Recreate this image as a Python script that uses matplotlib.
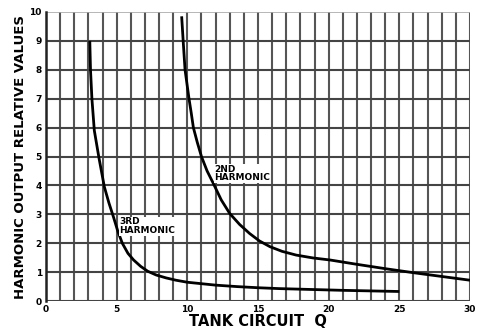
import numpy as np
import matplotlib
matplotlib.use("Agg")
import matplotlib.pyplot as plt

# values
third_q = [3.1, 3.15, 3.25, 3.42, 3.75, 4.13, 4.45, 4.78, 5.08, 5.4, 5.8, 6.2, 6.7, 7.2, 7.8,
           8.5, 9.2, 10.0, 11.0, 12.0, 13.5, 15.0, 16.5, 18.0, 19.5, 21.0, 23.0, 25.0]
third_v = [9.0, 8.0, 7.0, 5.9, 4.95, 3.95, 3.4, 2.9, 2.42, 2.0, 1.65, 1.42, 1.2, 1.03, 0.9,
           0.8, 0.72, 0.65, 0.6, 0.55, 0.5, 0.46, 0.43, 0.41, 0.39, 0.37, 0.35, 0.33]

second_q = [9.6, 9.72, 9.84, 9.98, 10.12, 10.28, 10.43, 10.7, 11.0, 11.4, 11.84, 12.4, 13.0, 13.7,
            14.4, 15.1, 15.85, 16.7, 17.7, 18.9, 20.1, 22.0, 24.0, 26.0, 28.0, 30.0]
second_v = [9.85, 8.9, 8.0, 7.5, 7.0, 6.5, 6.0, 5.5, 5.0, 4.5, 4.07, 3.5, 3.03, 2.65,
            2.34, 2.08, 1.88, 1.72, 1.59, 1.49, 1.42, 1.27, 1.12, 0.98, 0.85, 0.72]

x_ticks = [0, 5, 10, 15, 20, 25, 30]
y_ticks = list(range(0, 11))

plt.rcParams['font.family'] = 'DejaVu Sans'
plt.rcParams['font.weight'] = 'bold'

fig = plt.figure(figsize=(4.84, 3.33), dpi=100)
ax = fig.add_axes([0.095, 0.096, 0.876, 0.868])

# graph paper grid, one line per unit
for q in range(0, 31):
    ax.axvline(q, color='#555555', lw=1.5, zorder=1)
for v in range(0, 10):
    ax.axhline(v, color='#444444', lw=1.5, zorder=1)
ax.axhline(10, color='#aaaaaa', lw=1.2, zorder=1)

ax.plot(third_q, third_v, color='black', lw=2.0, zorder=3, solid_capstyle='butt')
ax.plot(second_q, second_v, color='black', lw=2.0, zorder=3, solid_capstyle='butt')

ax.text(5.2, 2.35, "3RD\nHARMONIC", fontsize=6.5, fontweight='bold',
        linespacing=0.95, zorder=4,
        bbox=dict(facecolor='white', edgecolor='none', pad=0.3))
ax.text(11.9, 4.18, "2ND\nHARMONIC", fontsize=6.5, fontweight='bold',
        linespacing=0.95, zorder=4,
        bbox=dict(facecolor='white', edgecolor='none', pad=0.3))

ax.set_xlim(0, 30)
ax.set_ylim(0, 10)
ax.set_xticks(x_ticks)
ax.set_yticks(y_ticks)
ax.tick_params(axis='both', length=0, labelsize=6.5, pad=3)
for s in ax.spines.values():
    s.set_visible(False)
ax.spines['left'].set_visible(True)
ax.spines['left'].set_linewidth(1.8)
ax.spines['left'].set_color('#222222')

ax.set_xlabel("TANK CIRCUIT  Q", fontsize=10.5, fontweight='bold', labelpad=0)
ax.set_ylabel("HARMONIC OUTPUT RELATIVE VALUES", fontsize=9.5, fontweight='bold', labelpad=2)

plt.savefig("out.png", dpi=100)
